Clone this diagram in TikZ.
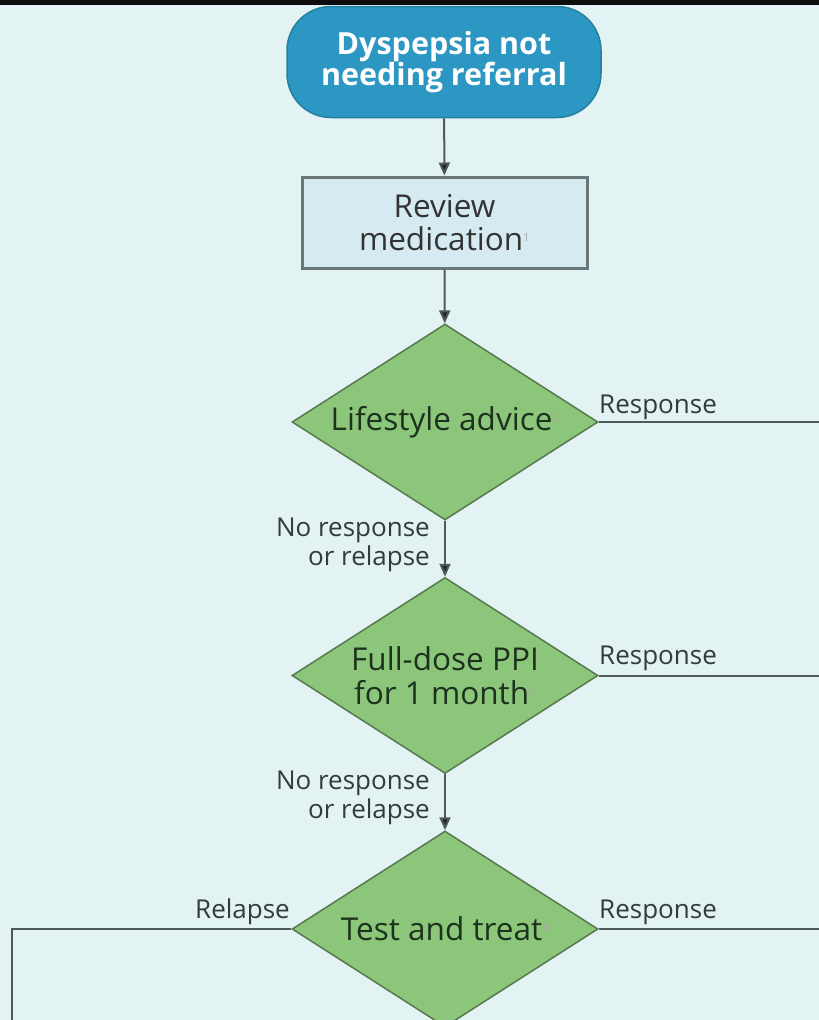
\documentclass[tikz,border=0pt]{standalone}
\usepackage{fontspec}
\setmainfont{Open Sans}
\usetikzlibrary{shapes.geometric,arrows.meta}
\definecolor{bgc}{HTML}{E3F2F3}
\definecolor{termfill}{HTML}{2C97C3}
\definecolor{termdraw}{HTML}{23809F}
\definecolor{boxfill}{HTML}{D6EBF1}
\definecolor{boxdraw}{HTML}{6A7778}
\definecolor{dfill}{HTML}{8CC67B}
\definecolor{ddraw}{HTML}{567A4E}
\definecolor{dtext}{HTML}{1C321C}
\definecolor{linec}{HTML}{4E5A5A}
\definecolor{labc}{HTML}{333B3B}
\tikzset{
  term/.style={draw=termdraw, line width=1.5pt, fill=termfill, rounded corners=44pt,
    minimum width=314pt, minimum height=111pt, inner sep=0pt, align=center,
    text=white, font=\bfseries\fontsize{30.5}{30}\selectfont},
  revbox/.style={draw=boxdraw, line width=3pt, fill=boxfill, minimum width=285pt,
    minimum height=91pt, inner sep=0pt, align=center, text=black!80,
    font=\fontsize{31.5}{33}\selectfont},
  dec/.style={diamond, draw=ddraw, line width=1.5pt, fill=dfill, minimum width=306pt,
    minimum height=196pt, inner sep=0pt},
  dtxt/.style={align=center, text=dtext, inner sep=0pt, font=\fontsize{31.5}{34}\selectfont},
  conn/.style={draw=linec, line width=2pt},
  arr/.style={conn, -{Triangle[length=13pt,width=11pt,fill=black!85]}},
  lab/.style={text=labc, font=\fontsize{26}{29}\selectfont, inner sep=0pt}
}
\newcommand{\fnm}[1]{\textsuperscript{\color{black!35}\fontsize{11}{11}\selectfont #1}}
\begin{document}
\begin{tikzpicture}[x=1pt,y=-1pt]
\useasboundingbox (0,0) rectangle (819,1020);
\fill[bgc] (0,0) rectangle (819,1020);
\fill[black!95] (0,0) rectangle (819,5);
\begin{scope}
\clip (0,5) rectangle (819,1020);
\node[term] (start) at (444,62) {Dyspepsia not\\needing referral};
\node[revbox] (rev) at (444.5,222.5) {Review\\medication\fnm{1}};
\node[dec] (d1) at (445,422) {};
\node[dec] (d2) at (445,675.5) {};
\node[dec] (d3) at (445,929) {};
\node[dtxt] (t1) at (d1) {Lifestyle advice\fnm{2}};
\node[dtxt] (t2) at (d2) {Full-dose PPI\\for 1 month\fnm{3}};
\node[dtxt] (t3) at (d3) {Test and treat\fnm{4}};
\coordinate (r1) at (819,422);
\coordinate (r2) at (819,675.5);
\coordinate (r3) at (819,929);
\coordinate (lc) at (12,929);
\coordinate (lb) at (12,1020);
\draw[arr] (start) -- (rev);
\draw[arr] (rev) -- (d1);
\draw[arr] (d1) -- (d2);
\draw[arr] (d2) -- (d3);
\draw[conn] (d1.east) -- (r1);
\draw[conn] (d2.east) -- (r2);
\draw[conn] (d3.east) -- (r3);
\draw[conn] (d3.west) -- (lc) -- (lb);
\node[lab, anchor=base west] (l1) at (599,413) {Response};
\node[lab, anchor=base west] (l2) at (599,664) {Response};
\node[lab, anchor=base west] (l3) at (599,918) {Response};
\node[lab, anchor=base east] (l4) at (290,918) {Relapse};
\node[lab, anchor=east, align=right] (n1) at (430,545) {No response\\or relapse};
\node[lab, anchor=east, align=right] (n2) at (430,798) {No response\\or relapse};
\end{scope}
\end{tikzpicture}
\end{document}
